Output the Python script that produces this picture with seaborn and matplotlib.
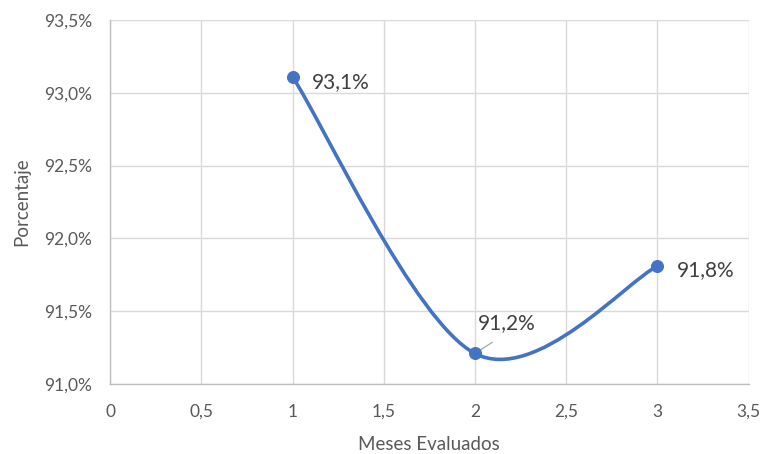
import numpy as np
import seaborn as sns
import matplotlib.pyplot as plt
from matplotlib.path import Path
from matplotlib.patches import PathPatch
from matplotlib.ticker import FuncFormatter

meses = [1, 2, 3]
porcentaje = [93.11, 91.21, 91.81]
etiquetas = ["93,1%", "91,2%", "91,8%"]

sns.set_theme(style="whitegrid")
plt.rcParams['font.family'] = ['Lato', 'DejaVu Sans']

color = "#4472C4"
gris = "#595959"

fig = plt.figure(figsize=(7.64, 4.54), dpi=100)
ax = fig.add_axes([0.144, 0.154, 0.836, 0.802])

# smoothed line (Excel-style bezier through the points)
pts = np.column_stack([meses, porcentaje]).astype(float)
n = len(pts)
verts = [pts[0]]
codes = [Path.MOVETO]
for i in range(n - 1):
    p_prev = pts[max(i - 1, 0)]
    p_next2 = pts[min(i + 2, n - 1)]
    c1 = pts[i] + (pts[i + 1] - p_prev) / 6
    c2 = pts[i + 1] - (p_next2 - pts[i]) / 6
    verts += [c1, c2, pts[i + 1]]
    codes += [Path.CURVE4] * 3
ax.add_patch(PathPatch(Path(verts, codes), facecolor="none", edgecolor=color,
                       lw=2.6, capstyle="round", zorder=3))

sns.scatterplot(x=meses, y=porcentaje, ax=ax, color=color, s=75,
                edgecolor=color, zorder=4, legend=False)

# data labels
ax.annotate(etiquetas[0], (meses[0], porcentaje[0]), xytext=(14, -4),
            textcoords="offset points", fontsize=15, color="#404040", va="center")
ax.annotate(etiquetas[1], (meses[1], porcentaje[1]), xytext=(2, 22),
            textcoords="offset points", fontsize=15, color="#404040", va="center",
            arrowprops=dict(arrowstyle="-", color="#a6a6a6", lw=0.9,
                            shrinkA=8, shrinkB=2,
                            relpos=(0.5, 0.0)))
ax.annotate(etiquetas[2], (meses[2], porcentaje[2]), xytext=(14, -3),
            textcoords="offset points", fontsize=15, color="#404040", va="center")

ax.set_xlim(0, 3.5)
ax.set_ylim(91.0, 93.5)
ax.set_xticks(np.arange(0, 3.51, 0.5))
ax.set_yticks(np.arange(91.0, 93.51, 0.5))
ax.xaxis.set_major_formatter(FuncFormatter(lambda v, p: f"{v:g}".replace(".", ",")))
ax.yaxis.set_major_formatter(FuncFormatter(lambda v, p: f"{v:.1f}%".replace(".", ",")))
ax.tick_params(axis="x", labelsize=12.5, colors=gris, length=0, pad=14)
ax.tick_params(axis="y", labelsize=12.5, colors=gris, length=0, pad=13)
ax.grid(True, color="#d9d9d9", lw=1)
for s in ["top", "right"]:
    ax.spines[s].set_visible(False)
for s in ["left", "bottom"]:
    ax.spines[s].set_color("#bfbfbf")
    ax.spines[s].set_linewidth(1)

ax.set_xlabel("Meses Evaluados", fontsize=13.5, color=gris, labelpad=12)
ax.set_ylabel("Porcentaje", fontsize=13.5, color=gris, labelpad=10)

fig.savefig("out.png", dpi=100, facecolor="white")
